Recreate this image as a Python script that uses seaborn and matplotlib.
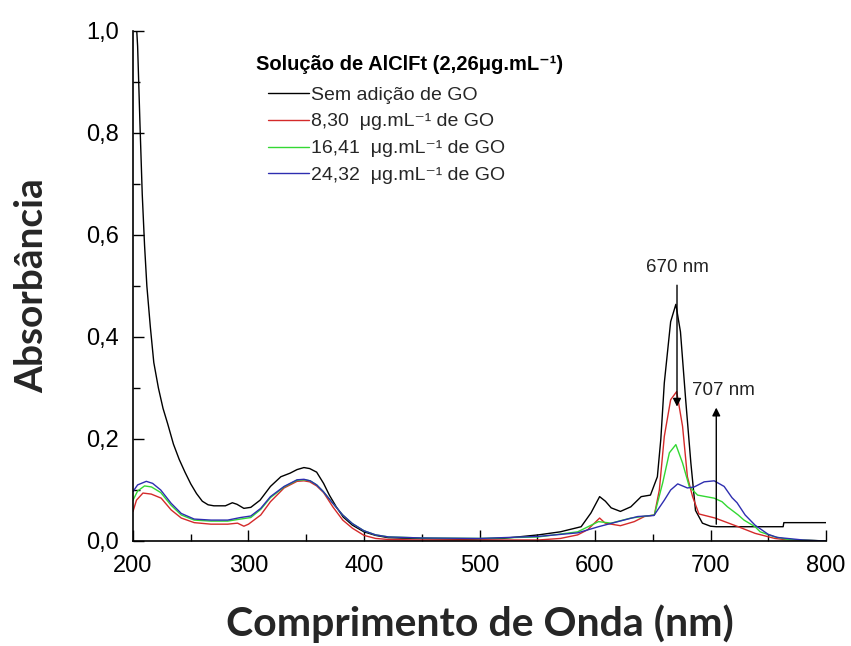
import numpy as np
import pandas as pd
import matplotlib
matplotlib.use("Agg")
import matplotlib.pyplot as plt
from matplotlib.ticker import MultipleLocator, FuncFormatter
import seaborn as sns

# ---------------- data ----------------
wl_black = [200, 202, 204, 206, 208, 210, 212, 215, 218, 222, 226, 230, 235, 240, 245, 250, 255, 260,
            265, 270, 280, 286, 290, 296, 302, 310, 319, 328, 336, 342, 348, 353, 359, 365, 370, 376,
            382, 390, 400, 410, 421, 450, 490, 520, 551, 570, 588, 596.5, 604, 609, 614, 622, 631, 640,
            648, 654, 657, 660, 665.5, 670, 674, 678.5, 683, 687, 693, 700, 705, 762.9, 763.5, 800]
abs_black = [1.15, 1.05, 0.97, 0.82, 0.68, 0.58, 0.50, 0.42, 0.35, 0.30, 0.26, 0.23, 0.19, 0.16, 0.135,
             0.112, 0.093, 0.078, 0.071, 0.069, 0.069, 0.075, 0.072, 0.064, 0.066, 0.080, 0.107, 0.126,
             0.133, 0.140, 0.144, 0.142, 0.135, 0.113, 0.090, 0.067, 0.047, 0.031, 0.018, 0.011, 0.0065,
             0.0046, 0.003, 0.005, 0.012, 0.018, 0.028, 0.055, 0.087, 0.078, 0.065, 0.058, 0.067, 0.087,
             0.090, 0.126, 0.20, 0.31, 0.43, 0.464, 0.41, 0.277, 0.153, 0.06, 0.035, 0.029, 0.028, 0.028,
             0.036, 0.036]

wl_red = [200, 203, 208.6, 215.8, 224.4, 233, 241.8, 253, 267.5, 282, 290.5, 296, 300, 310.6, 319, 330.8,
          342, 348, 353, 359, 365, 373, 381.6, 390, 400, 410, 421, 449, 500, 551, 570, 585, 593.6, 604,
          608.8, 622, 634, 642.8, 651.4, 655.7, 660, 665.5, 670.7, 675.8, 680, 684.5, 690, 704, 724,
          738.6, 755.7, 763.5, 800]
abs_red = [0.058, 0.080, 0.094, 0.092, 0.084, 0.061, 0.045, 0.036, 0.033, 0.033, 0.035, 0.029, 0.033,
           0.051, 0.077, 0.104, 0.117, 0.118, 0.116, 0.108, 0.095, 0.067, 0.041, 0.025, 0.011, 0.005,
           0.003, 0.002, 0.002, 0.002, 0.005, 0.012, 0.022, 0.045, 0.035, 0.030, 0.038, 0.048, 0.051,
           0.10, 0.205, 0.277, 0.293, 0.225, 0.126, 0.087, 0.053, 0.045, 0.028, 0.015, 0.005, 0.003, 0.0]

wl_green = [200, 204, 210, 216, 224, 233, 241.8, 253, 267.5, 282, 293, 302, 310.6, 319, 330.8, 342, 348,
            353.4, 359, 364.7, 373, 381.6, 390, 400, 410, 421, 449, 500, 551, 585, 603, 614, 631, 651.4,
            658.6, 664.4, 670, 675.8, 681.6, 688.8, 703.2, 710, 714.7, 724, 729, 738.6, 743, 755.7, 767, 800]
abs_green = [0.080, 0.098, 0.108, 0.106, 0.095, 0.070, 0.051, 0.041, 0.039, 0.039, 0.043, 0.046, 0.062,
             0.085, 0.106, 0.119, 0.120, 0.118, 0.110, 0.097, 0.074, 0.051, 0.034, 0.020, 0.012, 0.008,
             0.006, 0.005, 0.008, 0.018, 0.038, 0.035, 0.045, 0.051, 0.114, 0.173, 0.189, 0.153, 0.107,
             0.090, 0.084, 0.077, 0.067, 0.051, 0.041, 0.028, 0.018, 0.008, 0.003, 0.0]

wl_blue = [200, 204, 211.5, 217, 224, 233, 241.8, 253, 267.5, 282, 293, 302, 310.6, 319, 330.8, 342, 348,
           353.4, 359, 364.7, 373, 381.6, 390, 400, 410, 421, 449, 500, 551, 585, 603, 619.8, 637, 651,
           660, 665.5, 671.6, 680, 685.9, 694.5, 703.2, 711.8, 718.6, 723, 730, 738.6, 750, 757.8, 780, 800]
abs_blue = [0.097, 0.110, 0.117, 0.113, 0.100, 0.074, 0.054, 0.043, 0.041, 0.041, 0.046, 0.049, 0.064,
            0.087, 0.107, 0.120, 0.121, 0.118, 0.110, 0.097, 0.074, 0.051, 0.034, 0.020, 0.012, 0.008,
            0.006, 0.005, 0.009, 0.016, 0.028, 0.038, 0.048, 0.050, 0.080, 0.100, 0.112, 0.104, 0.106,
            0.116, 0.118, 0.107, 0.085, 0.075, 0.051, 0.031, 0.013, 0.007, 0.002, 0.0]

series_labels = ["Sem adição de GO",
                 "8,30  μg.mL⁻¹ de GO",
                 "16,41  μg.mL⁻¹ de GO",
                 "24,32  μg.mL⁻¹ de GO"]
series_colors = ["#000000", "#d42a2a", "#33d833", "#2e2eb0"]
legend_title = "Solução de AlClFt (2,26μg.mL⁻¹)"

peak1_nm, peak1_label = 671, "670 nm"
peak2_nm, peak2_label = 705, "707 nm"

x_ticks = [200, 300, 400, 500, 600, 700, 800]
y_ticks = [0.0, 0.2, 0.4, 0.6, 0.8, 1.0]

# ---------------- dataframe ----------------
frames = []
for wl, ab, lab in zip([wl_black, wl_red, wl_green, wl_blue],
                       [abs_black, abs_red, abs_green, abs_blue], series_labels):
    frames.append(pd.DataFrame({"wl": wl, "abs": ab, "serie": lab}))
df = pd.concat(frames, ignore_index=True)

# ---------------- style ----------------
sns.set_theme(style="ticks")
fam = ["Liberation Sans", "DejaVu Sans"]
plt.rcParams["font.family"] = fam

fig = plt.figure(figsize=(8.51, 6.46), dpi=100)
ax = fig.add_axes([133 / 851, 105 / 646, (826 - 133) / 851, (541 - 31) / 646])

sns.lineplot(data=df, x="wl", y="abs", hue="serie", palette=series_colors,
             hue_order=series_labels, ax=ax, linewidth=1.0, legend=False,
             sort=True, estimator=None)

ax.set_xlim(200, 800)
ax.set_ylim(0, 1.0)
ax.set_xticks(x_ticks)
ax.set_yticks(y_ticks)
ax.xaxis.set_minor_locator(MultipleLocator(50))
ax.yaxis.set_minor_locator(MultipleLocator(0.1))
ax.yaxis.set_major_formatter(FuncFormatter(lambda v, p: f"{v:.1f}".replace(".", ",")))
ax.tick_params(axis="both", which="major", direction="in", length=8, width=1,
               labelsize=17, pad=10, color="black", labelcolor="black")
ax.tick_params(axis="both", which="minor", direction="in", length=5, width=1, color="black")
for s in ["top", "right"]:
    ax.spines[s].set_visible(False)
for s in ["left", "bottom"]:
    ax.spines[s].set_color("black")
    ax.spines[s].set_linewidth(1.2)

ax.set_xlabel("Comprimento de Onda (nm)", fontsize=29.5, fontweight="bold",
              family=["Lato", "DejaVu Sans"], labelpad=20)
ax.set_ylabel("Absorbância", fontsize=28, fontweight="bold",
              family=["Lato", "DejaVu Sans"], labelpad=27)

# annotations
ax.annotate("", xy=(peak1_nm, 0.258), xytext=(peak1_nm, 0.507),
            arrowprops=dict(arrowstyle="-|>", color="black", lw=1.0, mutation_scale=12))
ax.text(peak1_nm, 0.527, peak1_label, ha="center", va="baseline", fontsize=13.5, color="#222222")
ax.annotate("", xy=(peak2_nm, 0.267), xytext=(peak2_nm, 0.0275),
            arrowprops=dict(arrowstyle="-|>", color="black", lw=1.0, mutation_scale=12))
ax.text(711, 0.287, peak2_label, ha="center", va="baseline", fontsize=13.5, color="#222222")

# legend
ax.text((256 - 133) / 693, (541 - 64) / 510, legend_title, transform=ax.transAxes,
        ha="left", va="center", fontsize=14.5, fontweight="bold", color="black")
handles = ax.get_lines()[:4]
leg = ax.legend(handles, series_labels, loc="upper left",
                bbox_to_anchor=((268 - 133) / 693, (541 - 86) / 510),
                frameon=False, prop={"family": fam, "size": 14}, handlelength=2.1,
                handletextpad=0.12, labelspacing=0.475, borderaxespad=0, borderpad=0)

fig.savefig("out.png", dpi=100)
